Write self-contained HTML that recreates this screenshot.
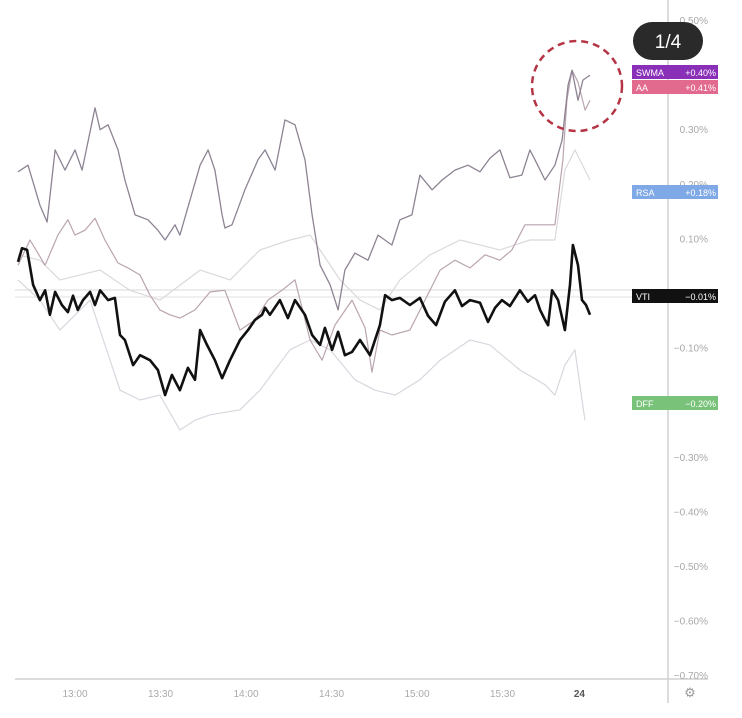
<!DOCTYPE html>
<html><head><meta charset="utf-8"><style>
body{margin:0;background:#fff;width:742px;height:718px;overflow:hidden;font-family:"Liberation Sans",sans-serif}
svg{display:block}
</style></head><body>
<svg id="chart" width="742" height="718" viewBox="0 0 742 718">
<g id="grid">
<line x1="15" x2="668" y1="290" y2="290" stroke="#d8d8d8" stroke-width="1"/>
<line x1="15" x2="668" y1="297" y2="297" stroke="#e2e2e2" stroke-width="1"/>
</g>
<g id="series"></g>
<line x1="668" x2="668" y1="0" y2="703" stroke="#b8b8b8" stroke-width="1"/>
<line x1="15" x2="708" y1="679" y2="679" stroke="#d0d0d0" stroke-width="1.5"/>
<g id="yticks"></g>
<g id="xticks"></g>
<text x="690" y="697" font-size="13" fill="#999" text-anchor="middle">⚙</text>
<circle cx="577" cy="86" r="45" fill="none" stroke="#b53545" stroke-width="2.5" stroke-dasharray="7,5"/>
<g id="labels"></g>
<g>
<rect x="633" y="22" width="70" height="38" rx="19" fill="#2a2a2a"/>
<text x="668" y="48" font-size="19" fill="#fff" text-anchor="middle">1/4</text>
</g>
</svg>
<script>
const yTicks=[0.5,0.3,0.2,0.1,0,-0.1,-0.2,-0.3,-0.4,-0.5,-0.6,-0.7];
const xTickTimes=[20,50,80,110,140,170,197];
const xTickLabels=["13:00","13:30","14:00","14:30","15:00","15:30","24"];
const vtiT=[0,1.4,3.2,5.3,7.7,9.5,11.2,13,15.4,17.5,19.3,21,22.8,25.3,27,28.8,31.6,34,35.8,37.5,40.4,42.8,46.3,49.1,51.6,54,56.8,59.6,62.1,63.9,66.3,69.1,71.6,74.4,77.9,80.7,83.2,85.6,86.7,88.4,91.9,94.7,97.2,100.7,103.2,106,107.7,110.2,112.3,114.7,117.2,120,123.5,127,128.8,131.2,134,137.5,141,143.9,146.7,149.8,153.3,155.8,158.6,162.1,164.9,167.4,169.8,172.6,176.1,178.9,181.4,183.2,184.9,186,187.4,189.5,191.9,193.7,194.7,196.5,197.9,199.3,200.7];
const vtiV=[.057,.082,.079,.015,-.013,.005,-.04,.002,-.022,-.035,-.005,-.031,-.013,.002,-.022,.005,-.013,-.009,-.077,-.086,-.132,-.114,-.123,-.141,-.187,-.15,-.178,-.137,-.159,-.068,-.095,-.123,-.156,-.123,-.086,-.068,-.049,-.04,-.027,-.04,-.013,-.046,-.013,-.04,-.077,-.095,-.064,-.104,-.071,-.114,-.108,-.086,-.114,-.059,-.004,-.013,-.009,-.022,-.009,-.042,-.059,-.016,.005,-.024,-.013,-.018,-.053,-.027,-.013,-.024,.005,-.016,-.004,-.031,-.049,-.059,.005,-.013,-.068,.015,.088,.051,-.013,-.022,-.04];
const swmaT=[0,3.5,7.7,10.2,13,16.5,20,22.5,27,28.8,31.6,35.1,37.5,41.1,45.6,49.1,51.6,55.1,56.8,63.9,66.7,69.1,71.6,72.6,75.1,79.6,84.2,86.7,90.2,93.7,97.2,100.7,103.2,106,109.5,112.3,114.7,118.2,122.8,126.3,131.2,134,138.2,141,145.3,148.8,153.3,157.9,162.1,165.6,169.1,172.6,176.8,179.6,181.4,184.9,188.4,190.9,193,194.4,196.5,198.2,200.7];
const swmaV=[.222,.234,.161,.13,.262,.225,.262,.225,.339,.299,.308,.262,.207,.143,.134,.115,.097,.125,.106,.234,.262,.225,.143,.119,.125,.189,.244,.262,.225,.317,.308,.244,.143,.051,.015,-.031,.042,.073,.06,.106,.088,.134,.143,.216,.189,.207,.225,.234,.222,.247,.262,.211,.216,.262,.244,.207,.234,.28,.381,.408,.353,.39,.399];
const aaT=[0,4.2,9.5,14,17.5,20,23.5,27,30.5,35.1,38.6,42.8,46.3,49.8,53.3,56.8,62.1,67.4,72.6,77.9,83.2,87.7,92.6,97.2,102.5,106.7,111.2,117.2,121.8,124.2,127,131.2,137.5,142.8,148.1,153.3,158.6,163.9,169.1,173.3,177.9,183.2,188.4,191.2,192.6,194.4,196.5,199,200.7];
const aaV=[.051,.097,.051,.106,.134,.106,.115,.137,.097,.055,.046,.033,-.004,-.031,-.04,-.046,-.031,.002,.005,-.068,-.049,-.013,.005,.024,-.086,-.123,-.059,-.013,-.064,-.145,-.068,-.077,-.068,-.013,.042,.06,.046,.07,.06,.079,.125,.125,.125,.244,.353,.408,.386,.335,.353];
const rsaT=[0,7.7,14.7,28.8,39.3,49.8,63.9,74.4,84.9,95.4,102.5,113,120,127,134,144.6,155.1,169.1,179.6,188.4,191.9,195.4,200.7];
const rsaV=[.07,.06,.024,.042,.005,-.013,.042,.024,.079,.097,.106,.024,-.013,-.031,.024,.07,.097,.079,.097,.097,.225,.262,.207];
const dffT=[0,7.7,14.7,25.3,35.8,42.8,49.8,56.8,62.1,67.4,77.9,84.9,95.4,102.5,109.5,118.2,125.3,132.3,141,148.1,158.6,165.6,176.1,184.9,188.4,191.9,195.4,198.9];
const dffV=[.024,-.013,-.068,-.013,-.178,-.196,-.187,-.251,-.233,-.223,-.214,-.178,-.104,-.086,-.104,-.159,-.178,-.187,-.159,-.123,-.086,-.095,-.141,-.168,-.187,-.132,-.104,-.233];
const labelNames=["SWMA","AA","RSA","VTI","DFF"];
const labelValues=["+0.40%","+0.41%","+0.18%","−0.01%","−0.20%"];

const NS="http://www.w3.org/2000/svg";
function xs(t){return 18+t*2.85;}
function ys(v){return 293-v*546;}
function mk(tag,attrs,parent){const e=document.createElementNS(NS,tag);for(const k in attrs)e.setAttribute(k,attrs[k]);parent.appendChild(e);return e;}
const S=document.getElementById('series');
function line(T,V,color,w,name){
  const d=T.map((t,i)=>(i?'L':'M')+xs(t).toFixed(1)+','+ys(V[i]).toFixed(1)).join(' ');
  const p=mk('path',{d:d,fill:'none',stroke:color,'stroke-width':w,'stroke-linejoin':'round'},S);
  
  
}
line(dffT,dffV,'#d9d6de',1.2,'dff-line');
line(rsaT,rsaV,'#dcd8dc',1.2,'rsa-line');
line(aaT,aaV,'#b9a4b0',1.2,'aa-line');
line(swmaT,swmaV,'#8d8393',1.3,'swma-line');
line(vtiT,vtiV,'#111',2.6,'vti-line');

const Y=document.getElementById('yticks');
yTicks.forEach(v=>{
  const t=mk('text',{x:708,y:ys(v)+4,'font-size':10,fill:'#a8a8a8','text-anchor':'end'},Y);
  t.textContent=(v<0?'−':'')+Math.abs(v).toFixed(2)+'%';
  
  
});
const X=document.getElementById('xticks');
xTickTimes.forEach((t,i)=>{
  const e=mk('text',{x:xs(t),y:697,'font-size':10,fill:i==6?'#555':'#aaa','text-anchor':'middle','font-weight':i==6?'bold':'normal'},X);
  e.textContent=xTickLabels[i];
  
  
});
const L=document.getElementById('labels');
const labelY=[65,80,185,289,396];
const labelColors=["#8a2fb8","#e36a8f","#7ea8e6","#111","#78c27a"];
labelNames.forEach((n,i)=>{
  const g=mk('g',{},L);
  
  
  mk('rect',{x:632,y:labelY[i],width:86,height:14,fill:labelColors[i]},g);
  const a=mk('text',{x:636,y:labelY[i]+11,'font-size':9,fill:'#fff'},g);a.textContent=n;
  const b=mk('text',{x:716,y:labelY[i]+11,'font-size':9,fill:'#fff','text-anchor':'end'},g);b.textContent=labelValues[i];
});
</script>
</body></html>
